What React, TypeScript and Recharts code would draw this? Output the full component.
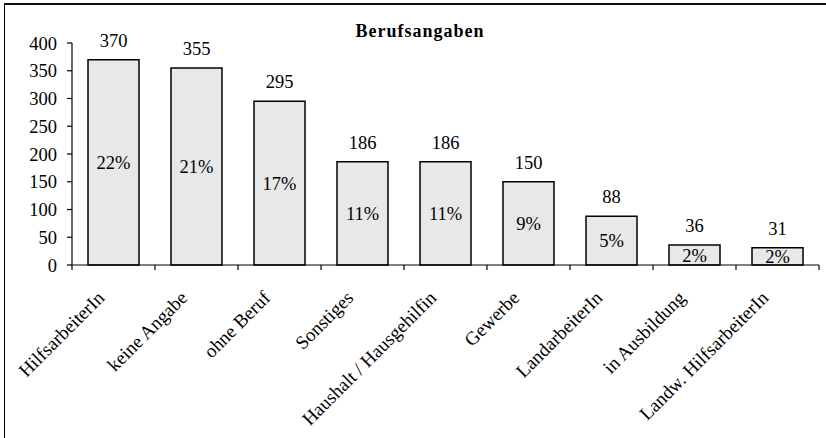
import React from "react";
import { BarChart, Bar, XAxis, YAxis, LabelList } from "recharts";

const categories = [
  "HilfsarbeiterIn",
  "keine Angabe",
  "ohne Beruf",
  "Sonstiges",
  "Haushalt / Hausgehilfin",
  "Gewerbe",
  "LandarbeiterIn",
  "in Ausbildung",
  "Landw. HilfsarbeiterIn",
];
const counts = [370, 355, 295, 186, 186, 150, 88, 36, 31];
const shares = ["22%", "21%", "17%", "11%", "11%", "9%", "5%", "2%", "2%"];
const yTicks = [0, 50, 100, 150, 200, 250, 300, 350, 400];

const FONT = "Liberation Serif";
const FS = 18.5;
const TICK_SIZE = 6;
const TICK_MARGIN = 2;

const data = categories.map((name, i) => ({
  name,
  count: counts[i],
  share: shares[i],
}));

// category label rotated 45°, plus Excel-style tick marks on the band edges
const CategoryTick = (props: any) => {
  const { x, y, payload, index, width, visibleTicksCount } = props;
  const band = width / visibleTicksCount;
  const axisY = y - TICK_SIZE - TICK_MARGIN;
  const ax = x - 8;
  const ay = y + 26;
  return (
    <g>
      {index === 0 && (
        <line x1={x - band / 2} x2={x - band / 2} y1={axisY} y2={axisY + 5} stroke="#000" strokeWidth={1.2} />
      )}
      <line x1={x + band / 2} x2={x + band / 2} y1={axisY} y2={axisY + 5} stroke="#000" strokeWidth={1.2} />
      <text
        x={ax}
        y={ay}
        textAnchor="end"
        fontSize={19}
        fontFamily={FONT}
        fill="#000"
        transform={`rotate(-45 ${ax} ${ay})`}
      >
        {payload.value}
      </text>
    </g>
  );
};

export default function App() {
  return (
    <div
      style={{
        position: "absolute",
        left: 0,
        top: 0,
        width: 826,
        height: 438,
        overflow: "hidden",
        background: "#fff",
      }}
    >
      <div
        style={{
          position: "absolute",
          left: 4,
          top: 3,
          width: 900,
          height: 500,
          borderTop: "2px solid #111",
          borderLeft: "1px solid #000",
        }}
      />
      <div
        style={{
          position: "absolute",
          left: 0,
          width: 826,
          top: 21,
          textAlign: "center",
          fontFamily: FONT,
          fontWeight: "bold",
          fontSize: 18,
          letterSpacing: 1,
          paddingLeft: 14,
          boxSizing: "border-box",
        }}
      >
        Berufsangaben
      </div>
      <BarChart
        width={826}
        height={438}
        data={data}
        margin={{ top: 43, right: 7, left: 12, bottom: 0 }}
        style={{ position: "absolute", left: 0, top: 0 }}
      >
        <XAxis
          dataKey="name"
          interval={0}
          height={173}
          tickSize={TICK_SIZE}
          tickMargin={TICK_MARGIN}
          tickLine={false}
          stroke="#000"
          strokeWidth={1.2}
          tick={<CategoryTick />}
        />
        <YAxis
          domain={[0, 400]}
          ticks={yTicks}
          width={60}
          tickSize={5}
          tickMargin={10}
          interval={0}
          stroke="#000"
          strokeWidth={1.2}
          tick={{ fill: "#000", fontSize: FS, fontFamily: FONT }}
        />
        <Bar
          dataKey="count"
          fill="#e8e8e8"
          stroke="#000"
          strokeWidth={1.5}
          barSize={51}
          isAnimationActive={false}
        >
          <LabelList
            dataKey="count"
            position="top"
            offset={13}
            fill="#000"
            fontSize={FS}
            fontFamily={FONT}
          />
          <LabelList
            dataKey="share"
            position="center"
            fill="#000"
            fontSize={FS}
            fontFamily={FONT}
          />
        </Bar>
      </BarChart>
    </div>
  );
}
